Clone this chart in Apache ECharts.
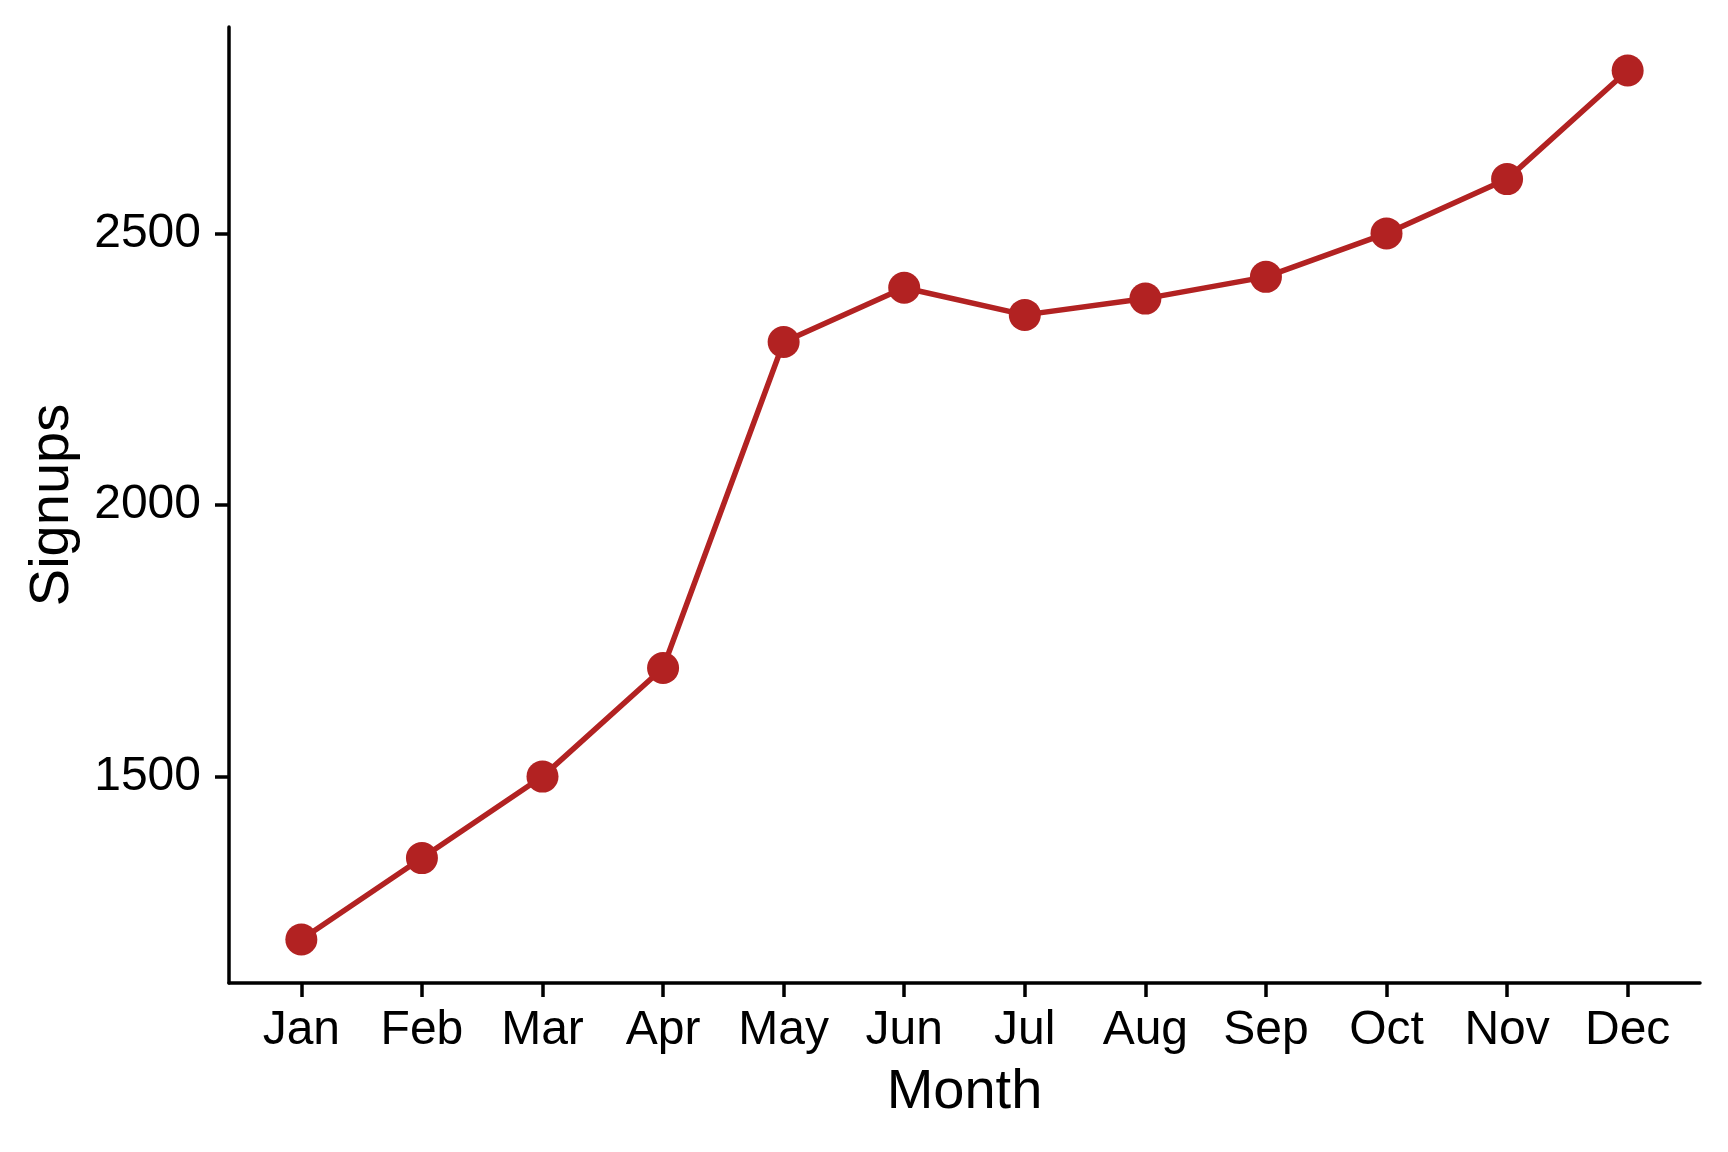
<!DOCTYPE html>
<html>
<head>
<meta charset="utf-8">
<script src="https://cdn.jsdelivr.net/npm/echarts@6/dist/echarts.min.js"></script>
<style>html,body{margin:0;padding:0;background:#fff;}#c{width:1728px;height:1152px;}</style>
</head>
<body>
<div id="c"></div>
<script>
const months = ['Jan','Feb','Mar','Apr','May','Jun','Jul','Aug','Sep','Oct','Nov','Dec'];
const signups = [1200, 1350, 1500, 1700, 2300, 2400, 2350, 2380, 2420, 2500, 2600, 2800];
const yTicks = [1500, 2000, 2500];

const chart = echarts.init(document.getElementById('c'), null, {renderer: 'canvas'});
const font = 'Liberation Sans, Arial, Helvetica, sans-serif';
const xIdx = months.map((m, i) => i);
chart.setOption({
  animation: false,
  backgroundColor: '#ffffff',
  grid: {left: 229, right: 28, top: 27, bottom: 169, containLabel: false},
  xAxis: {
    type: 'value', min: -0.6, max: 11.6,
    name: 'Month', nameLocation: 'middle', nameGap: 82,
    nameTextStyle: {fontFamily: font, fontSize: 56, color: '#000'},
    axisLine: {show: true, onZero: false, lineStyle: {color: '#000', width: 3.5}},
    axisTick: {show: true, length: 14, lineStyle: {color: '#000', width: 3.5}, customValues: xIdx},
    axisLabel: {fontFamily: font, fontSize: 48, color: '#000', margin: 24, customValues: xIdx,
      formatter: v => months[Math.round(v)]},
    splitLine: {show: false}
  },
  yAxis: {
    type: 'value', min: 1120, max: 2880,
    name: 'Signups', nameLocation: 'middle', nameGap: 148, nameRotate: 90,
    nameTextStyle: {fontFamily: font, fontSize: 56, color: '#000'},
    axisLine: {show: true, onZero: false, lineStyle: {color: '#000', width: 3.5}},
    axisTick: {show: true, length: 14, lineStyle: {color: '#000', width: 3.5}, customValues: yTicks},
    axisLabel: {fontFamily: font, fontSize: 48, color: '#000', margin: 28, customValues: yTicks,
      formatter: v => String(v)},
    splitLine: {show: false}
  },
  series: [{
    type: 'line',
    data: signups.map((v, i) => [i, v]),
    symbol: 'circle', symbolSize: 32,
    lineStyle: {color: '#B22222', width: 5.5},
    itemStyle: {color: '#B22222'}
  }]
});
</script>
</body>
</html>
